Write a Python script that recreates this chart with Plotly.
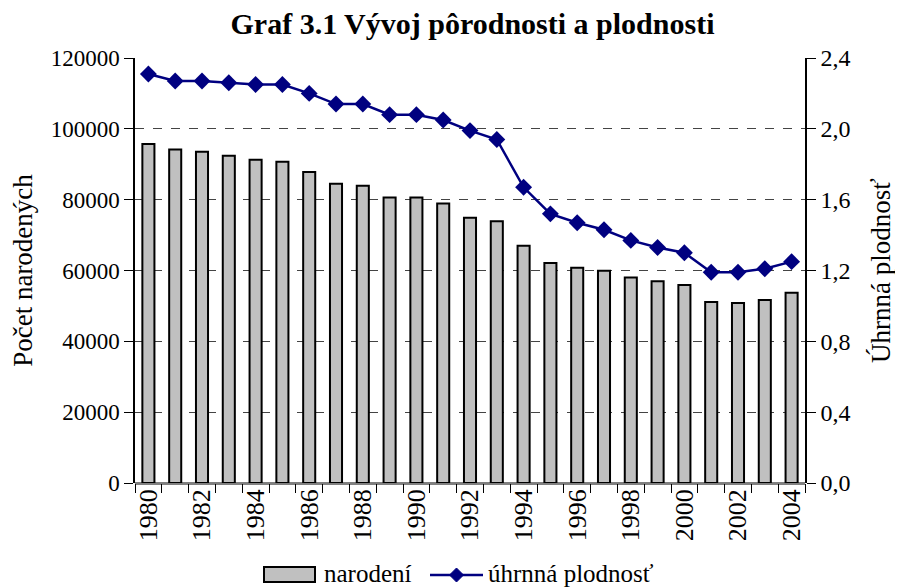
import plotly.graph_objects as go

years = list(range(1980, 2005))
births = [95700, 94200, 93500, 92400, 91300, 90700, 87800, 84500, 83900, 80600,
          80600, 78900, 74900, 73900, 67000, 62100, 60800, 59900, 58000, 57000,
          55900, 51100, 50800, 51700, 53700]
tfr = [2.31, 2.27, 2.27, 2.26, 2.25, 2.25, 2.20, 2.14, 2.14, 2.08,
       2.08, 2.05, 1.99, 1.94, 1.67, 1.52, 1.47, 1.43, 1.37, 1.33,
       1.30, 1.19, 1.19, 1.21, 1.25]
left_ticks = [0, 20000, 40000, 60000, 80000, 100000, 120000]
left_labels = [str(v) for v in left_ticks]
right_ticks = [0.0, 0.4, 0.8, 1.2, 1.6, 2.0, 2.4]
right_labels = ["0,0", "0,4", "0,8", "1,2", "1,6", "2,0", "2,4"]
x_labels = [str(y) for y in years[::2]]

FONT = "Liberation Serif"
NAVY = "#000080"

fig = go.Figure()
fig.add_trace(go.Bar(
    x=years, y=births, name="narodení",
    marker=dict(color="#c0c0c0", line=dict(color="black", width=2)),
    yaxis="y", showlegend=False,
))
fig.add_trace(go.Scatter(
    x=years, y=tfr, name="úhrnná plodnosť", mode="lines+markers",
    line=dict(color=NAVY, width=2.5),
    marker=dict(symbol="diamond", size=13, color=NAVY),
    yaxis="y2", showlegend=False,
))

# page body has an 8px margin; lay out in figure coordinates
OFF = 8
W, H = 895, 579
ml, mr, mt, mb = 127, 98, 50, 104
pw, ph = W - ml - mr, H - mt - mb
def px(xs):
    return (xs - OFF - ml) / pw
def py(ys):
    return (H - mb - (ys - OFF)) / ph

shapes = [
    dict(type="rect", xref="paper", yref="paper",
         x0=px(264), x1=px(315), y0=py(582), y1=py(567),
         fillcolor="#c0c0c0", line=dict(color="black", width=2)),
    dict(type="line", xref="paper", yref="paper",
         x0=px(430), x1=px(483), y0=py(575), y1=py(575),
         line=dict(color=NAVY, width=2.5)),
    dict(type="path", xref="paper", yref="paper",
         path="M {a},{b} L {c},{d} L {a},{e} L {f},{d} Z".format(
             a=px(456.5), b=py(568), c=px(463.5), d=py(575), e=py(582), f=px(449.5)),
         fillcolor=NAVY, line=dict(color=NAVY, width=1)),
]
annotations = [
    dict(text="narodení", xref="paper", yref="paper", x=px(322), y=py(573),
         xanchor="left", yanchor="middle", showarrow=False,
         font=dict(family=FONT, size=25, color="black")),
    dict(text="úhrnná plodnosť", xref="paper", yref="paper", x=px(486), y=py(573),
         xanchor="left", yanchor="middle", showarrow=False,
         font=dict(family=FONT, size=25, color="black")),
]

fig.update_layout(
    width=W, height=H,
    paper_bgcolor="white", plot_bgcolor="white",
    margin=dict(l=ml, r=mr, t=mt, b=mb),
    font=dict(family=FONT, size=24, color="black"),
    title=dict(text="<b>Graf 3.1 Vývoj pôrodnosti a plodnosti</b>",
               xref="container", yref="container",
               x=(472.5 - OFF) / W, xanchor="center",
               y=1 - (23 - OFF) / H, yanchor="middle",
               font=dict(family=FONT, size=30, color="black")),
    bargap=0.55,
    showlegend=False,
    shapes=shapes,
    annotations=annotations,
    xaxis=dict(
        range=[1979.5, 2004.5], automargin=False,
        tickmode="array", tickvals=years[::2], ticktext=x_labels,
        tickangle=-90, ticks="", showgrid=False, zeroline=False,
        showline=False,
        tickfont=dict(family=FONT, size=26),
        minor=dict(tickvals=[y - 0.5 for y in years] + [years[-1] + 0.5],
                   ticks="outside", ticklen=9, tickcolor="black", tickwidth=1,
                   showgrid=False),
    ),
    yaxis=dict(
        range=[0, 120000], tickvals=left_ticks, ticktext=left_labels,
        automargin=False,
        ticks="outside", ticklen=9,
        tickcolor="black", showline=True, linecolor="black", linewidth=1.5,
        showgrid=True, gridcolor="#444444", griddash="dash", gridwidth=1,
        zeroline=True, zerolinecolor="#808080", zerolinewidth=3,
        title=dict(text="Počet narodených", font=dict(family=FONT, size=27), standoff=12),
        tickfont=dict(family=FONT, size=23),
    ),
    yaxis2=dict(
        range=[0, 2.4], tickvals=right_ticks, ticktext=right_labels,
        automargin=False,
        overlaying="y", side="right", ticks="outside", ticklen=9,
        tickcolor="black", showline=True, linecolor="black", linewidth=1.5,
        showgrid=False, zeroline=False,
        title=dict(text="Úhrnná plodnosť", font=dict(family=FONT, size=27), standoff=22),
        tickfont=dict(family=FONT, size=24),
    ),
)

fig.write_html("out.html")
